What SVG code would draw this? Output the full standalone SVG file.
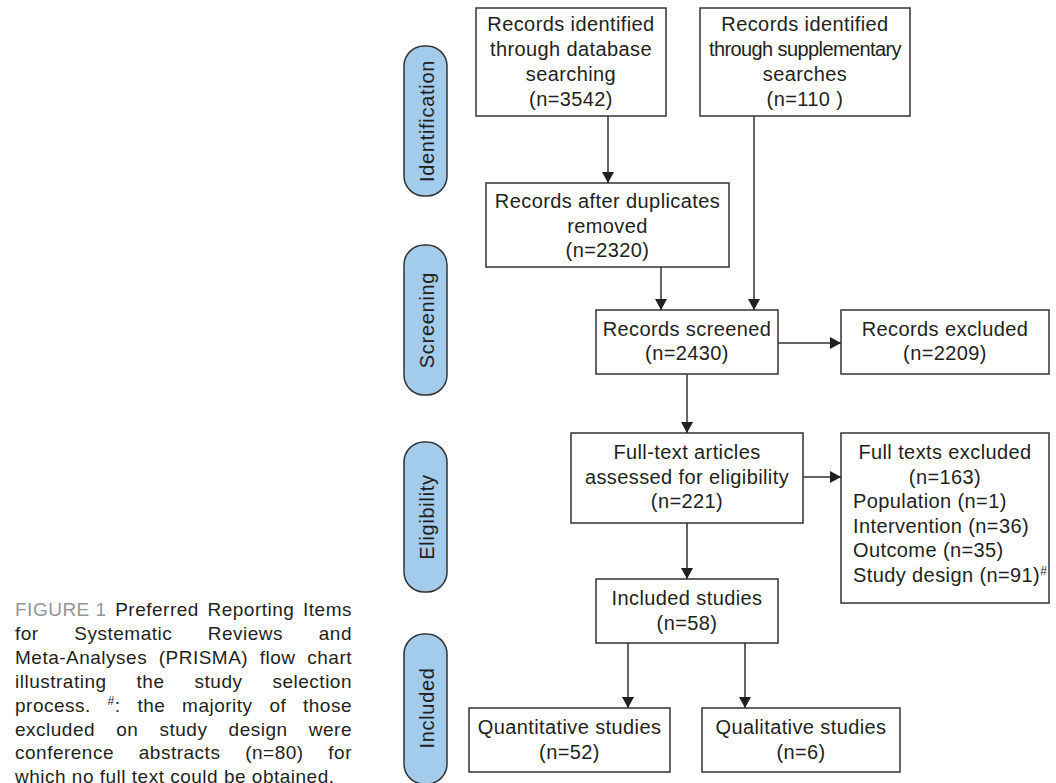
<svg xmlns="http://www.w3.org/2000/svg" width="1056" height="783" viewBox="0 0 1056 783">
<style>
.box{fill:#fff;stroke:#333;stroke-width:1.5}
.pill{fill:#a3cbeb;stroke:#333;stroke-width:1.5}
.t{font-family:"Liberation Sans",Arial,sans-serif;font-size:20px;letter-spacing:0.4px;fill:#231f20}
.p{font-family:"Liberation Sans",Arial,sans-serif;font-size:20px;letter-spacing:0.7px;fill:#231f20;text-anchor:middle}
.c{text-anchor:middle}
.cap{font-family:"Liberation Sans",Arial,sans-serif;font-size:19px;letter-spacing:0.5px;fill:#231f20}
.gray{fill:#939598}
.ln{stroke:#333;stroke-width:1.5;fill:none}
</style>
<defs>
<marker id="ah" markerUnits="userSpaceOnUse" markerWidth="12" markerHeight="12" refX="11" refY="6" orient="auto">
<path d="M0,0 L11,6 L0,12 Z" fill="#231f20"/>
</marker>
</defs>

<g id="phase-identification">
<rect class="pill" x="404" y="46" width="43" height="150" rx="20"/>
<text class="p" transform="translate(434,121) rotate(-90)">Identification</text>
</g>
<g id="phase-screening">
<rect class="pill" x="404" y="245" width="43" height="150" rx="20"/>
<text class="p" transform="translate(434,320) rotate(-90)">Screening</text>
</g>
<g id="phase-eligibility">
<rect class="pill" x="404" y="442" width="43" height="150" rx="20"/>
<text class="p" transform="translate(434,517) rotate(-90)">Eligibility</text>
</g>
<g id="phase-included">
<rect class="pill" x="404" y="634" width="43" height="150" rx="20"/>
<text class="p" transform="translate(434,708) rotate(-90)">Included</text>
</g>

<g id="n-database">
<rect class="box" x="476" y="8" width="190" height="108"/>
<text class="t c" x="571" y="31">Records identified</text>
<text class="t c" x="571" y="56">through database</text>
<text class="t c" x="571" y="81">searching</text>
<text class="t c" x="571" y="106">(n=3542)</text>
</g>
<g id="n-supplementary">
<rect class="box" x="700" y="8" width="210" height="108"/>
<text class="t c" x="805" y="31">Records identified</text>
<text class="t c" x="805" y="56" style="letter-spacing:-0.6px">through supplementary</text>
<text class="t c" x="805" y="81">searches</text>
<text class="t c" x="805" y="106">(n=110 )</text>
</g>
<g id="n-duplicates">
<rect class="box" x="486" y="183" width="243" height="84"/>
<text class="t c" x="607.5" y="208">Records after duplicates</text>
<text class="t c" x="607.5" y="233">removed</text>
<text class="t c" x="607.5" y="257">(n=2320)</text>
</g>
<g id="n-screened">
<rect class="box" x="596" y="310" width="182" height="64"/>
<text class="t c" x="687" y="336">Records screened</text>
<text class="t c" x="687" y="360">(n=2430)</text>
</g>
<g id="n-excluded">
<rect class="box" x="841" y="310" width="208" height="64"/>
<text class="t c" x="945" y="336">Records excluded</text>
<text class="t c" x="945" y="360">(n=2209)</text>
</g>
<g id="n-fulltext">
<rect class="box" x="571" y="433" width="232" height="90"/>
<text class="t c" x="687" y="459">Full-text articles</text>
<text class="t c" x="687" y="484">assessed for eligibility</text>
<text class="t c" x="687" y="508">(n=221)</text>
</g>
<g id="n-fulltext-excluded">
<rect class="box" x="841" y="433" width="208" height="170"/>
<text class="t c" x="945" y="459">Full texts excluded</text>
<text class="t c" x="945" y="483.5">(n=163)</text>
<text class="t" x="853" y="508">Population (n=1)</text>
<text class="t" x="853" y="532.5">Intervention (n=36)</text>
<text class="t" x="853" y="557">Outcome (n=35)</text>
<text class="t" x="853" y="581.5">Study design (n=91)<tspan font-size="12" dy="-7">#</tspan></text>
</g>
<g id="n-included">
<rect class="box" x="596" y="579" width="182" height="64"/>
<text class="t c" x="687" y="605">Included studies</text>
<text class="t c" x="687" y="630">(n=58)</text>
</g>
<g id="n-quantitative">
<rect class="box" x="469" y="708" width="201" height="64"/>
<text class="t c" x="569.5" y="734">Quantitative studies</text>
<text class="t c" x="569.5" y="759">(n=52)</text>
</g>
<g id="n-qualitative">
<rect class="box" x="702" y="708" width="198" height="64"/>
<text class="t c" x="801" y="734">Qualitative studies</text>
<text class="t c" x="801" y="759">(n=6)</text>
</g>

<g id="connectors">
<line class="ln" x1="608" y1="116" x2="608" y2="183" marker-end="url(#ah)"/>
<line class="ln" x1="661" y1="267" x2="661" y2="310" marker-end="url(#ah)"/>
<line class="ln" x1="754" y1="116" x2="754" y2="310" marker-end="url(#ah)"/>
<line class="ln" x1="778" y1="343" x2="841" y2="343" marker-end="url(#ah)"/>
<line class="ln" x1="687" y1="374" x2="687" y2="433" marker-end="url(#ah)"/>
<line class="ln" x1="803" y1="477" x2="841" y2="477" marker-end="url(#ah)"/>
<line class="ln" x1="687" y1="523" x2="687" y2="579" marker-end="url(#ah)"/>
<line class="ln" x1="628" y1="643" x2="628" y2="708" marker-end="url(#ah)"/>
<line class="ln" x1="745" y1="643" x2="745" y2="708" marker-end="url(#ah)"/>
</g>

<g id="caption" class="cap">
<text x="15" y="616" class="gray">FIGURE 1</text>
<text x="115.2" y="616">Preferred</text>
<text x="207.5" y="616">Reporting</text>
<text x="352" y="616" text-anchor="end">Items</text>
<text x="15" y="640">for</text>
<text x="74.3" y="640">Systematic</text>
<text x="207.8" y="640">Reviews</text>
<text x="352" y="640" text-anchor="end">and</text>
<text x="15" y="664">Meta-Analyses</text>
<text x="158.7" y="664">(PRISMA)</text>
<text x="259.8" y="664">flow</text>
<text x="352" y="664" text-anchor="end">chart</text>
<text x="15" y="688">illustrating</text>
<text x="136.6" y="688">the</text>
<text x="194.6" y="688">study</text>
<text x="352" y="688" text-anchor="end">selection</text>
<text x="15" y="712">process.</text>
<text x="107.6" y="712"><tspan font-size="12" dy="-7">#</tspan><tspan dy="7">:</tspan></text>
<text x="137.4" y="712">the</text>
<text x="182.1" y="712">majority</text>
<text x="269.4" y="712">of</text>
<text x="352" y="712" text-anchor="end">those</text>
<text x="15" y="736">excluded</text>
<text x="116.2" y="736">on</text>
<text x="159.5" y="736">study</text>
<text x="228.6" y="736">design</text>
<text x="352" y="736" text-anchor="end">were</text>
<text x="15" y="759">conference</text>
<text x="138.8" y="759">abstracts</text>
<text x="245.2" y="759">(n=80)</text>
<text x="352" y="759" text-anchor="end">for</text>
<text x="15" y="783">which no full text could be obtained.</text>
</g>
</svg>
